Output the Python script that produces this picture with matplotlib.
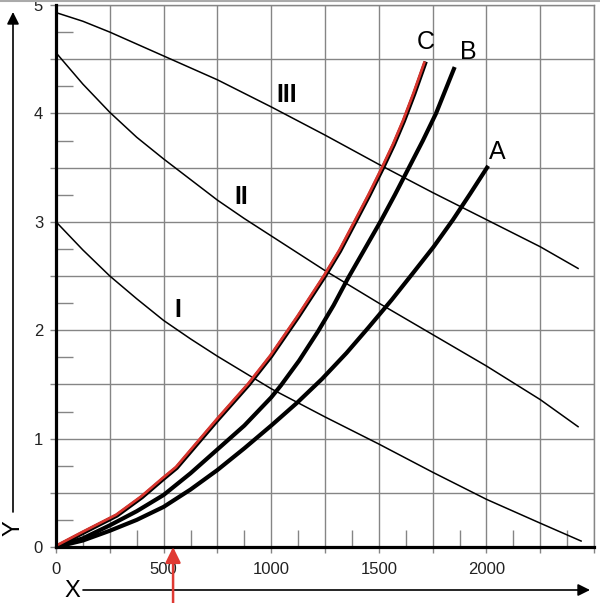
import matplotlib.pyplot as plt
import matplotlib.transforms as mtransforms
from matplotlib.ticker import MultipleLocator, FuncFormatter
from matplotlib.lines import Line2D

plt.rcParams['font.family'] = ['Liberation Sans', 'DejaVu Sans']

# thin falling curves I, II, III
i_x = [0, 125, 250, 375, 500, 625, 750, 875, 1000, 1250, 1500, 1750, 2000, 2250, 2440]
i_y = [3.0, 2.74, 2.50, 2.29, 2.09, 1.92, 1.76, 1.61, 1.46, 1.20, 0.95, 0.69, 0.44, 0.22, 0.055]
ii_x = [0, 125, 250, 375, 500, 625, 750, 875, 1000, 1250, 1500, 1750, 2000, 2250, 2426]
ii_y = [4.56, 4.27, 4.01, 3.78, 3.58, 3.39, 3.20, 3.03, 2.87, 2.55, 2.25, 1.96, 1.67, 1.36, 1.11]
iii_x = [0, 125, 250, 500, 750, 1000, 1250, 1500, 1750, 2000, 2250, 2426]
iii_y = [4.93, 4.85, 4.75, 4.53, 4.31, 4.06, 3.80, 3.53, 3.27, 3.02, 2.77, 2.57]

# thick rising curves A, B, C
a_x = [0, 125, 250, 375, 500, 625, 750, 875, 1000, 1120, 1236, 1350, 1450, 1560, 1660, 1755, 1845, 1925, 2003]
a_y = [0, 0.06, 0.15, 0.25, 0.37, 0.53, 0.71, 0.91, 1.12, 1.33, 1.55, 1.79, 2.02, 2.28, 2.53, 2.77, 3.02, 3.26, 3.5]
b_x = [0, 125, 250, 375, 500, 625, 750, 875, 1000, 1045, 1130, 1218, 1290, 1357, 1435, 1510, 1575, 1640, 1705, 1766, 1849]
b_y = [0, 0.08, 0.2, 0.33, 0.48, 0.68, 0.90, 1.12, 1.38, 1.49, 1.72, 1.99, 2.23, 2.48, 2.75, 3.01, 3.25, 3.5, 3.75, 4.0, 4.41]
c_x = [0, 125, 283, 400, 500, 561, 677, 750, 897, 1000, 1125, 1250, 1320, 1389, 1455, 1520, 1570, 1617, 1665, 1715]
c_y = [0, 0.13, 0.29, 0.46, 0.63, 0.73, 1.0, 1.17, 1.5, 1.76, 2.12, 2.5, 2.73, 2.99, 3.24, 3.5, 3.71, 3.93, 4.18, 4.46]

marker_x = 544

fig = plt.figure(figsize=(6, 6.03), dpi=100)
ax = fig.add_axes([56 / 600, 56 / 603, 538 / 600, 542 / 603])
ax.set_xlim(0, 2500)
ax.set_ylim(0, 5)

grey = '#858585'
ax.xaxis.set_major_locator(MultipleLocator(250))
ax.xaxis.set_minor_locator(MultipleLocator(125))
ax.yaxis.set_major_locator(MultipleLocator(0.5))
ax.yaxis.set_minor_locator(MultipleLocator(0.25))
ax.xaxis.set_major_formatter(FuncFormatter(lambda v, p: f'{int(v)}' if v % 500 == 0 and v <= 2000 else ''))
ax.yaxis.set_major_formatter(FuncFormatter(lambda v, p: f'{int(v)}' if v % 1 == 0 else ''))

ax.grid(True, which='major', color=grey, lw=1.0)
ax.tick_params(which='major', direction='out', length=4.3, width=1.0, color=grey,
               labelsize=12, labelcolor='#222222')
ax.tick_params(axis='x', which='major', pad=6.5)
ax.tick_params(axis='y', which='major', pad=5)
ax.tick_params(which='minor', direction='in', length=12, width=1.0, color=grey)

for side in ['left', 'bottom']:
    ax.spines[side].set_color('black')
    ax.spines[side].set_linewidth(2.3)
    ax.spines[side].set_zorder(5)
for side in ['right', 'top']:
    ax.spines[side].set_color(grey)
    ax.spines[side].set_linewidth(1.0)

# curves
ax.plot(i_x, i_y, color='black', lw=1.1, zorder=3)
ax.plot(ii_x, ii_y, color='black', lw=1.1, zorder=3)
ax.plot(iii_x, iii_y, color='black', lw=1.1, zorder=3)
ax.plot(a_x, a_y, color='black', lw=3, zorder=3)
ax.plot(b_x, b_y, color='black', lw=3, zorder=3)
ax.plot(c_x, c_y, color='black', lw=3, zorder=3)
red_tr = mtransforms.offset_copy(ax.transData, fig, x=-0.8, y=0.8, units='dots')
ax.plot(c_x, c_y, color='#d8352e', lw=2.0, zorder=4, transform=red_tr)

# curve labels
ax.text(1719, 4.66, 'C', fontsize=18, ha='center', va='center')
ax.text(1915, 4.57, 'B', fontsize=18, ha='center', va='center')
ax.text(2049, 3.64, 'A', fontsize=18, ha='center', va='center')
ax.text(1073, 4.17, 'III', fontsize=18, fontweight='bold', ha='center', va='center')
ax.text(860, 3.23, 'II', fontsize=18, fontweight='bold', ha='center', va='center')
ax.text(567, 2.19, 'I', fontsize=18, fontweight='bold', ha='center', va='center')

# axis arrows outside the plot
ax.annotate('', xy=(13, 603 - 12), xycoords='figure pixels', xytext=(13, 603 - 512),
            arrowprops=dict(arrowstyle='-|>', color='black', lw=1.2, mutation_scale=18,
                            shrinkA=0, shrinkB=0), annotation_clip=False)
ax.annotate('', xy=(590, 603 - 590), xycoords='figure pixels', xytext=(83, 603 - 590),
            arrowprops=dict(arrowstyle='-|>', color='black', lw=1.2, mutation_scale=18,
                            shrinkA=0, shrinkB=0), annotation_clip=False)
fig.text(14 / 600, 1 - 528 / 603, 'Y', fontsize=17, rotation=90, ha='center', va='center')
fig.text(72 / 600, 1 - 591 / 603, 'X', fontsize=17, ha='center', va='center')

# red marker arrow
ax.annotate('', xy=(marker_x, 0), xycoords='data', xytext=(marker_x, 0),
            textcoords=('data', 'figure fraction'),
            arrowprops=dict(arrowstyle='-|>,head_length=0.55,head_width=0.27', color='#e03a33',
                            lw=1.8, mutation_scale=17, shrinkA=0, shrinkB=0),
            annotation_clip=False, zorder=6)

fig.add_artist(Line2D([0, 1], [1 - 1 / 603, 1 - 1 / 603], color='#aaaaaa', lw=1.5))

fig.savefig('out.png', dpi=100)
